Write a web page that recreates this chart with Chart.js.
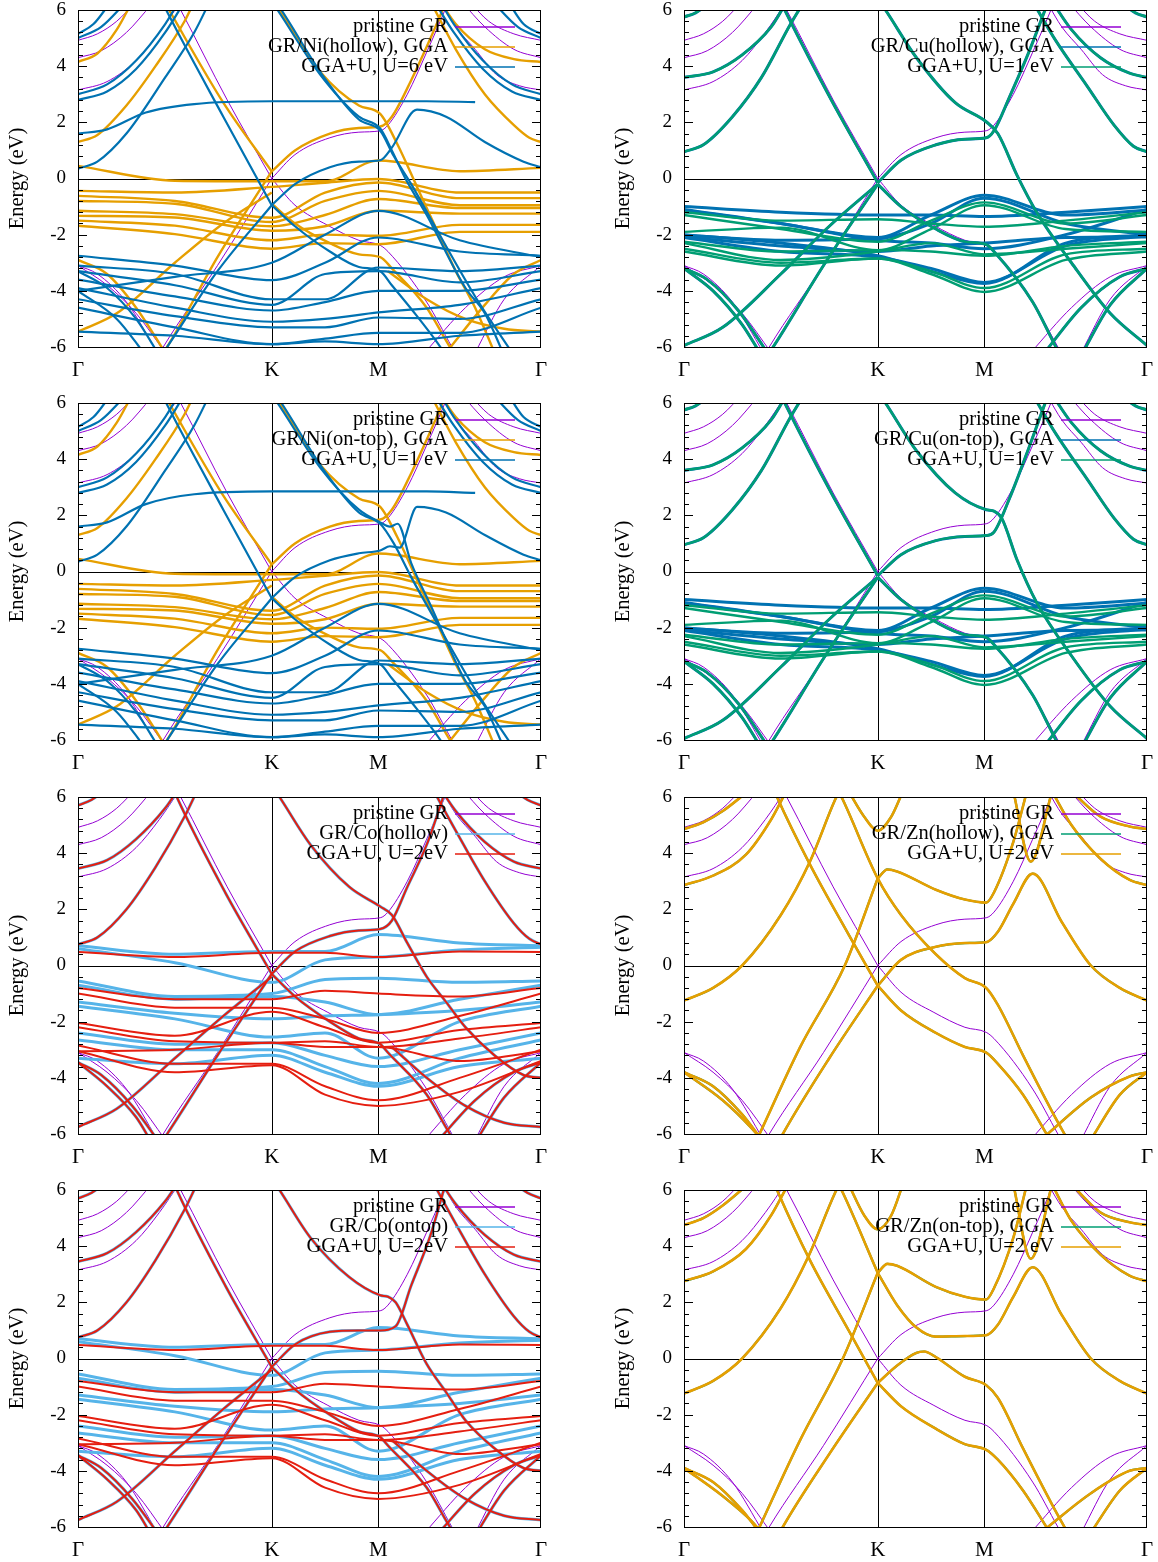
<!DOCTYPE html>
<html>
<head>
<meta charset="utf-8">
<script src="https://cdn.jsdelivr.net/npm/chart.js@4.4.1/dist/chart.umd.min.js"></script>
<style>
body { margin: 0; background: #fff; width: 1158px; height: 1562px; position: relative; overflow: hidden; }
canvas { position: absolute; }
</style>
</head>
<body>
<canvas id="c0" width="560" height="393" style="left:0;top:0"></canvas>
<canvas id="c1" width="560" height="393" style="left:606px;top:0"></canvas>
<canvas id="c2" width="560" height="393" style="left:0;top:393px"></canvas>
<canvas id="c3" width="560" height="393" style="left:606px;top:393px"></canvas>
<canvas id="c4" width="560" height="393" style="left:0;top:787px"></canvas>
<canvas id="c5" width="560" height="393" style="left:606px;top:787px"></canvas>
<canvas id="c6" width="560" height="393" style="left:0;top:1180px"></canvas>
<canvas id="c7" width="560" height="393" style="left:606px;top:1180px"></canvas>
<script>
// k path: Γ - K - M - Γ
const K_POS = [0, 1, 1.55, 2.39]
const K_LABELS = ['Γ', 'K', 'M', 'Γ']
const E_MIN = -6
const E_MAX = 6
// grid used by the flat d-bands
const D_GRID = [0, 0.5, 1, 1.275, 1.55, 1.97, 2.39]

// pristine graphene, [k, E]
const GR_BANDS = [
  [[0.45,7],[0.53,6],[0.77,2.8],[1,0]],
  [[1,0],[1.12,0.85],[1.3,1.45],[1.45,1.65],[1.56,1.7],[1.6,1.9],[1.7,3.0],[1.8,4.5],[1.9,6.1],[1.95,7]],
  [[0.4,-6.5],[0.44,-6],[0.72,-3.1],[1,0]],
  [[1,0],[1.12,-0.95],[1.29,-1.67],[1.45,-2.2],[1.56,-2.38],[1.6,-2.6],[1.8,-4.4],[1.93,-6],[1.98,-6.6]],
  [[0,4.92],[0.1,5.15],[0.2,5.6],[0.3,6.3]],
  [[0,4.3],[0.12,4.55],[0.25,5.2],[0.38,6.2]],
  [[0,3.15],[0.15,3.45],[0.3,4.2],[0.42,5.2],[0.52,6.2]],
  [[0,-3.1],[0.1,-3.4],[0.25,-4.4],[0.41,-6.2]],
  [[0,-3.1],[0.15,-3.8],[0.3,-4.8],[0.45,-6.2]],
  [[2.02,6.3],[2.12,5.6],[2.25,5.15],[2.39,4.92]],
  [[1.98,6.3],[2.1,5.4],[2.25,4.6],[2.39,4.3]],
  [[1.88,6.2],[1.95,5.4],[2.05,4.6],[2.16,3.7],[2.28,3.3],[2.39,3.15]],
  [[1.79,-6.2],[2.0,-4.6],[2.2,-3.5],[2.39,-3.1]],
  [[2.05,-6.2],[2.2,-4.3],[2.39,-3.1]]
]

// ---- GR/Ni ----
const NI_GGA_SP = [
  [[0,4.15],[0.1,4.45],[0.2,5.3],[0.28,6.3]],
  [[0,1.3],[0.1,1.55],[0.25,2.6],[0.4,4.0],[0.55,5.6],[0.6,6.3]],
  [[0.42,6.6],[0.47,6],[0.75,2.7],[1,0.25]],
  [[0.4,-6.6],[0.46,-6],[0.72,-2.8],[1,0.25]],
  [[1,0.25],[1.12,1.0],[1.3,1.6],[1.45,1.8],[1.56,1.85],[1.62,2.2],[1.72,3.5],[1.82,5.0],[1.9,6.3]],
  [[0.98,6.6],[1.04,6],[1.25,3.8],[1.45,2.6],[1.56,2.3],[1.65,1.2],[1.75,-0.3],[1.85,-1.8],[1.95,-3.3],[2.05,-4.6],[2.15,-6.2]],
  [[0,-5.45],[0.2,-4.8],[0.5,-3.0],[0.75,-1.6],[1,-0.5]],
  [[0,-2.9],[0.15,-3.4],[0.3,-4.6],[0.45,-6.2]],
  [[1,-0.9],[1.12,-1.6],[1.3,-2.3],[1.45,-2.7],[1.56,-2.8],[1.62,-3.2],[1.8,-4.6],[1.92,-6],[1.97,-6.5]],
  [[1.87,6.3],[1.95,5.5],[2.1,4.6],[2.25,4.25],[2.39,4.15]],
  [[1.82,6.3],[1.95,4.6],[2.1,3.0],[2.25,1.9],[2.33,1.45],[2.39,1.3]],
  [[1.6,-3.3],[1.8,-4.3],[2.0,-5.0],[2.2,-5.35],[2.39,-5.45]],
  [[1.9,-6.2],[2.1,-4.5],[2.25,-3.4],[2.39,-2.9]]
]
const NI_GGA_D = [
  [0.45, -0.08, -0.1, -0.1, 0.64, 0.26, 0.38],
  [-0.44, -0.5, -0.3, -0.15, -0.02, -0.5, -0.5],
  [-0.62, -0.8, -1.4, -0.5, -0.14, -0.7, -0.7],
  [-0.8, -0.9, -1.55, -0.8, -0.44, -0.95, -0.95],
  [-1.15, -1.27, -1.7, -1.3, -0.73, -1.05, -1.05],
  [-1.33, -1.39, -1.86, -1.7, -1.15, -1.25, -1.25],
  [-1.5, -1.68, -2.2, -2.0, -2.04, -1.65, -1.65],
  [-1.68, -1.98, -2.5, -2.3, -2.34, -1.9, -1.9]
]
const NI_U_SP = [
  [[0,5.15],[0.08,5.5],[0.17,6.3]],
  [[0,5.0],[0.12,5.4],[0.25,6.3]],
  [[0,3.0],[0.15,3.35],[0.3,4.2],[0.45,5.5],[0.52,6.3]],
  [[0,2.8],[0.15,3.1],[0.3,3.9],[0.45,5.2],[0.55,6.3]],
  [[0,0.35],[0.1,0.6],[0.25,1.6],[0.45,3.6],[0.6,5.2],[0.68,6.3]],
  [[0.42,6.5],[0.47,5.8],[0.75,2.2],[1,-0.95]],
  [[0.4,-6.6],[0.46,-6],[0.72,-3.3],[1,-0.95]],
  [[1,-0.95],[1.12,-1.7],[1.3,-2.6],[1.45,-3.15],[1.56,-3.3],[1.62,-3.8],[1.75,-4.9],[1.85,-5.8],[1.9,-6.3]],
  [[2.22,6.3],[2.3,5.5],[2.39,5.15]],
  [[2.14,6.3],[2.27,5.4],[2.39,5.0]],
  [[1.87,6.3],[1.94,5.5],[2.09,4.2],[2.24,3.35],[2.39,3.0]],
  [[1.84,6.3],[1.94,5.2],[2.09,3.9],[2.24,3.1],[2.39,2.8]],
  [[0,-3.3],[0.15,-3.9],[0.3,-5.0],[0.42,-6.3]],
  [[0,-4.0],[0.2,-5.0],[0.35,-6.3]]
]
const NI_H_U_M = [
  [[0,1.6],[0.15,1.75],[0.35,2.35],[0.6,2.65],[1,2.75],[1.55,2.75],[1.8,2.75],[2.05,2.72]],
  [[1,-0.95],[1.12,-0.2],[1.3,0.4],[1.45,0.6],[1.56,0.65],[1.62,1.1],[1.75,2.45],[1.9,2.2],[2.1,1.3],[2.3,0.6],[2.39,0.4]],
  [[0.98,6.5],[1.03,6],[1.25,3.7],[1.45,2.2],[1.56,1.78],[1.62,1.0],[1.69,0],[1.8,-1.3],[2.0,-3.9],[2.1,-4.8],[2.2,-6.3]],
  [[1.0,6.5],[1.05,6],[1.27,3.6],[1.45,2.1],[1.56,1.7],[1.63,0.8],[1.72,-0.2],[1.85,-1.8],[2.05,-4.2],[2.25,-6.3]]
]
const NI_T_U_M = [
  [[0,1.6],[0.15,1.75],[0.35,2.4],[0.6,2.75],[1,2.85],[1.55,2.85],[1.8,2.85],[2.05,2.8]],
  [[1,-0.95],[1.12,-0.2],[1.3,0.4],[1.45,0.65],[1.56,0.75],[1.61,0.9],[1.66,0.85],[1.75,2.3],[1.9,2.1],[2.1,1.3],[2.3,0.6],[2.39,0.4]],
  [[0.98,6.5],[1.03,6],[1.25,3.7],[1.45,2.2],[1.56,1.75],[1.61,1.6],[1.65,1.7],[1.72,0.3],[1.82,-1.2],[2.0,-3.9],[2.1,-4.8],[2.2,-6.3]],
  [[1.0,6.5],[1.05,6],[1.27,3.6],[1.45,2.1],[1.56,1.7],[1.63,1.0],[1.72,-0.2],[1.85,-1.8],[2.05,-4.2],[2.25,-6.3]]
]
const NI_U_D = [
  [-2.75, -3.1, -3.62, -3.0, -2.1, -2.6, -2.75],
  [-3.1, -3.4, -4.3, -4.3, -3.17, -3.3, -3.1],
  [-3.3, -3.8, -4.5, -3.4, -3.3, -3.7, -3.3],
  [-3.6, -4.2, -4.7, -4.4, -4.0, -4.0, -3.6],
  [-3.9, -4.6, -5.1, -5.0, -4.77, -4.5, -3.9],
  [-4.3, -4.9, -5.3, -5.3, -4.95, -5.0, -4.3],
  [-4.6, -5.3, -5.9, -5.7, -5.5, -5.5, -4.6],
  [-4.0, -3.5, -3.0, -2.0, -1.15, -2.2, -2.8],
  [-5.45, -5.6, -5.9, -5.8, -5.9, -5.6, -5.45]
]

// ---- GR/Cu ----
const CU_SP = [
  [[0,5.75],[0.06,5.9],[0.14,6.3]],
  [[2.25,6.3],[2.33,5.9],[2.39,5.75]],
  [[0,3.6],[0.15,3.8],[0.3,4.4],[0.45,5.4],[0.53,6.3]],
  [[1.9,6.3],[2.0,5.3],[2.15,4.3],[2.3,3.75],[2.39,3.6]],
  [[0,0.95],[0.1,1.2],[0.25,2.2],[0.4,3.6],[0.55,5.5],[0.62,6.3]],
  [[1.8,6.3],[1.92,4.9],[2.08,3.3],[2.22,1.9],[2.32,1.15],[2.39,0.95]],
  [[0.45,7],[0.52,6],[0.76,2.8],[1,-0.15]],
  [[0.4,-6.6],[0.46,-6],[0.72,-3.1],[1,-0.2]],
  [[0,-5.95],[0.2,-5.3],[0.5,-3.4],[0.75,-1.7],[1,-0.2]],
  [[0,-3.2],[0.12,-3.6],[0.28,-4.7],[0.44,-6.3]],
  [[0,-3.2],[0.15,-4.0],[0.3,-5.2],[0.4,-6.3]],
  [[1.85,-6.3],[2.05,-4.6],[2.25,-3.5],[2.39,-3.2]],
  [[2.05,-6.3],[2.2,-4.5],[2.39,-3.2]],
  [[1,-0.2],[1.12,-1.0],[1.3,-1.8],[1.45,-2.25],[1.56,-2.35],[1.6,-2.6],[1.8,-4.4],[1.92,-6],[1.96,-6.5]]
]
const CU_H_M = [
  [[0.98,6.6],[1.04,6],[1.2,4.3],[1.4,2.7],[1.56,2.02],[1.62,1.6],[1.72,0.1],[1.82,-1.2],[2.0,-3.0],[2.2,-4.8],[2.39,-5.95]],
  [[1,-0.15],[1.12,0.65],[1.3,1.2],[1.45,1.4],[1.56,1.45],[1.6,1.7],[1.68,2.9],[1.78,4.5],[1.88,6.3]]
]
const CU_T_M = [
  [[0.98,6.6],[1.04,6],[1.2,4.3],[1.4,2.8],[1.56,2.2],[1.6,2.15],[1.64,1.9],[1.72,0.4],[1.82,-1.1],[2.0,-3.0],[2.2,-4.8],[2.39,-5.95]],
  [[1,-0.15],[1.12,0.6],[1.3,1.1],[1.45,1.25],[1.56,1.28],[1.6,1.4],[1.68,2.6],[1.78,4.4],[1.88,6.3]]
]
const CU_GGA_D = [
  [-1.0, -1.2, -1.3, -1.3, -1.35, -1.2, -1.0],
  [-1.13, -1.6, -2.1, -1.3, -0.6, -1.3, -1.13],
  [-2.02, -2.2, -2.14, -1.6, -0.7, -1.6, -2.0],
  [-2.08, -2.4, -2.6, -2.4, -2.3, -2.1, -2.08],
  [-2.1, -2.6, -2.8, -3.2, -3.7, -2.4, -2.05],
  [-2.0, -2.3, -2.75, -3.3, -3.74, -2.3, -2.0],
  [-1.1, -1.6, -2.2, -2.3, -2.5, -2.0, -1.1]
]
const CU_U_D = [
  [-1.2, -1.5, -1.45, -1.6, -1.72, -1.5, -1.2],
  [-1.3, -1.8, -2.25, -1.5, -0.85, -1.6, -1.3],
  [-1.9, -1.75, -2.55, -1.8, -0.95, -1.8, -1.9],
  [-2.25, -2.6, -2.55, -2.6, -2.75, -2.4, -2.25],
  [-2.5, -3.0, -2.85, -3.3, -3.9, -2.7, -2.5],
  [-2.6, -3.1, -2.85, -3.4, -4.04, -2.9, -2.6],
  [-2.3, -2.9, -2.6, -2.3, -2.7, -2.5, -2.3]
]

// ---- GR/Co ----
const CO_SP = [
  [[0,5.7],[0.07,5.9],[0.15,6.3]],
  [[2.24,6.3],[2.32,5.9],[2.39,5.7]],
  [[0,3.45],[0.15,3.75],[0.3,4.5],[0.45,5.6],[0.52,6.3]],
  [[1.87,6.3],[1.95,5.5],[2.1,4.4],[2.25,3.7],[2.39,3.45]],
  [[0,0.75],[0.1,1.0],[0.25,2.0],[0.4,3.5],[0.55,5.3],[0.62,6.3]],
  [[1.83,6.3],[1.95,4.8],[2.1,3.0],[2.25,1.5],[2.33,0.95],[2.39,0.75]],
  [[0.45,7],[0.51,6],[0.76,2.6],[1,-0.3]],
  [[0.4,-6.6],[0.46,-6],[0.72,-3.2],[1,-0.3]],
  [[0,-5.75],[0.2,-5.1],[0.5,-3.3],[0.75,-1.8],[1,-0.4]],
  [[0,-3.45],[0.12,-3.9],[0.28,-5.0],[0.42,-6.3]],
  [[0,-3.45],[0.15,-4.3],[0.3,-5.4],[0.38,-6.3]],
  [[1.85,-6.3],[2.05,-4.8],[2.25,-3.8],[2.39,-3.45]],
  [[2.05,-6.3],[2.2,-4.7],[2.39,-3.45]],
  [[1.62,-2.9],[1.8,-4.0],[2.0,-5.0],[2.2,-5.6],[2.39,-5.75]],
  [[1,-0.3],[1.12,-1.1],[1.3,-2.0],[1.45,-2.6],[1.56,-2.8],[1.6,-3.1],[1.8,-4.6],[1.92,-6],[1.97,-6.5]]
]
const CO_H_M = [
  [[0.98,6.6],[1.04,6],[1.2,4.3],[1.4,2.8],[1.56,2.1],[1.62,1.8],[1.7,0.8],[1.8,-0.4],[1.9,-1.3],[2.0,-2.2],[2.15,-3.2],[2.3,-3.9],[2.39,-4.0]],
  [[1,-0.3],[1.12,0.5],[1.3,1.05],[1.45,1.25],[1.56,1.3],[1.62,1.6],[1.7,2.8],[1.8,4.3],[1.9,6.3]]
]
const CO_T_M = [
  [[0.98,6.6],[1.04,6],[1.2,4.3],[1.4,2.9],[1.56,2.25],[1.6,2.2],[1.64,2.0],[1.7,1.2],[1.8,-0.2],[1.9,-1.2],[2.0,-2.2],[2.15,-3.2],[2.3,-3.9],[2.39,-4.0]],
  [[1,-0.3],[1.12,0.5],[1.3,0.95],[1.45,1.0],[1.56,1.0],[1.64,1.15],[1.72,2.6],[1.82,4.4],[1.9,6.3]]
]
const CO_GGA_D = [
  [0.6, 0.1, -0.6, 0.2, 0.3, 0.55, 0.65],
  [0.7, 0.4, 0.5, 0.5, 1.1, 0.8, 0.7],
  [-0.55, -1.1, -1.0, -0.5, -0.45, -0.6, -0.55],
  [-0.7, -1.2, -1.1, -1.3, -1.75, -1.2, -0.7],
  [-1.3, -1.7, -1.9, -1.8, -1.75, -1.6, -1.3],
  [-1.45, -1.9, -2.55, -2.4, -3.3, -2.0, -1.45],
  [-2.4, -2.8, -2.75, -3.2, -3.6, -3.0, -2.4],
  [-2.65, -3.0, -3.0, -3.6, -4.2, -3.3, -2.65],
  [-3.3, -3.5, -3.2, -3.8, -4.3, -3.6, -3.3]
]
const CO_U_D = [
  [0.48, 0.3, 0.45, 0.45, 0.3, 0.5, 0.48],
  [-0.8, -1.2, -1.2, -0.9, -1.0, -1.1, -0.8],
  [-1.0, -1.5, -1.5, -1.9, -2.4, -1.8, -1.0],
  [-2.05, -2.5, -1.65, -2.2, -2.75, -2.3, -2.05],
  [-2.2, -2.7, -2.75, -2.7, -2.9, -2.6, -2.2],
  [-2.85, -3.5, -3.5, -4.3, -4.8, -4.0, -3.0],
  [-3.05, -3.8, -3.55, -4.6, -5.0, -4.5, -3.4],
  [-3.05, -3.0, -2.75, -2.9, -2.9, -3.4, -3.05]
]

// ---- GR/Zn ----
const ZN_H = [
  [[0,4.86],[0.1,5.1],[0.2,5.5],[0.33,6.2]],
  [[0,2.86],[0.15,3.2],[0.32,3.95],[0.45,5.2],[0.52,6.1]],
  [[0,-1.25],[0.15,-0.8],[0.3,0],[0.5,1.8],[0.65,3.7],[0.78,5.9],[0.81,6.3]],
  [[0.79,6.3],[0.82,5.9],[1,3.1],[1.12,1.8],[1.3,0.4],[1.45,-0.45],[1.56,-0.8],[1.62,-1.4],[1.75,-3.2],[1.9,-5.2],[1.98,-6.2]],
  [[0.42,7],[0.48,6],[0.65,3.6],[0.85,1.1],[1,-0.72]],
  [[1,-0.72],[1.12,0.2],[1.29,0.65],[1.45,0.8],[1.56,0.83],[1.62,1.2],[1.7,2.2],[1.8,3.27],[1.95,1.55],[2.1,0],[2.25,-0.8],[2.39,-1.25]],
  [[0.45,-6.8],[0.51,-6],[0.75,-3.3],[1,-0.72]],
  [[1,-0.72],[1.12,-1.6],[1.3,-2.4],[1.45,-2.9],[1.56,-3.1],[1.62,-3.5],[1.75,-4.6],[1.88,-6.1]],
  [[0.35,-6.6],[0.39,-6],[0.6,-2.9],[0.83,0],[1,3.1]],
  [[1,3.1],[1.05,3.42],[1.1,3.35],[1.3,2.7],[1.45,2.35],[1.56,2.24],[1.6,2.6],[1.7,4.4],[1.77,6.2]],
  [[1.7,6.2],[1.79,3.7],[1.9,6.2]],
  [[0.85,6.2],[0.93,5.3],[1,4.8],[1.07,5.3],[1.13,6.2]],
  [[2.0,6.2],[2.15,5.3],[2.3,4.95],[2.39,4.86]],
  [[1.9,6.2],[2.0,5.0],[2.15,3.8],[2.3,3.05],[2.39,2.86]],
  [[0,-3.8],[0.15,-4.3],[0.3,-5.3],[0.39,-6.1]],
  [[0,-3.8],[0.2,-4.8],[0.35,-5.8],[0.4,-6.2]],
  [[1.86,-6.1],[2.1,-4.7],[2.3,-3.95],[2.39,-3.8]],
  [[2.1,-6.2],[2.25,-4.6],[2.39,-3.8]]
]
const ZN_T = [
  [[0,4.75],[0.1,5.0],[0.2,5.45],[0.33,6.2]],
  [[0,2.75],[0.15,3.1],[0.32,3.9],[0.45,5.1],[0.53,6.1]],
  [[0,-1.25],[0.15,-0.8],[0.3,0],[0.5,1.8],[0.64,3.6],[0.78,5.9],[0.81,6.3]],
  [[0.79,6.3],[0.82,5.9],[1,3.05]],
  [[1,3.05],[1.1,1.9],[1.2,1.1],[1.3,0.78],[1.45,0.8],[1.56,0.83],[1.62,1.2],[1.7,2.2],[1.8,3.25],[1.95,1.55],[2.1,0],[2.25,-0.8],[2.39,-1.25]],
  [[0.42,7],[0.48,6],[0.65,3.5],[0.85,1.0],[1,-0.87]],
  [[1,-0.87],[1.1,-0.25],[1.2,0.2],[1.24,0.25],[1.3,0.05],[1.45,-0.65],[1.56,-0.95],[1.62,-1.4],[1.75,-3.2],[1.9,-5.2],[1.98,-6.2]],
  [[0.45,-6.8],[0.51,-6],[0.75,-3.4],[1,-0.87]],
  [[1,-0.87],[1.12,-1.7],[1.3,-2.5],[1.45,-3.05],[1.56,-3.25],[1.62,-3.6],[1.75,-4.7],[1.88,-6.1]],
  [[0.35,-6.6],[0.39,-6],[0.6,-2.9],[0.82,0],[1,3.05]],
  [[1,3.05],[1.05,3.37],[1.1,3.3],[1.3,2.55],[1.45,2.2],[1.56,2.1],[1.6,2.5],[1.7,4.3],[1.77,6.2]],
  [[1.7,6.2],[1.79,3.55],[1.9,6.2]],
  [[0.85,6.2],[0.93,5.1],[1,4.6],[1.07,5.1],[1.13,6.2]],
  [[2.0,6.2],[2.15,5.2],[2.3,4.85],[2.39,4.75]],
  [[1.9,6.2],[2.0,4.9],[2.15,3.7],[2.3,2.95],[2.39,2.75]],
  [[0,-3.9],[0.15,-4.4],[0.3,-5.4],[0.38,-6.1]],
  [[0,-3.9],[0.2,-4.9],[0.35,-5.8],[0.4,-6.2]],
  [[1.86,-6.1],[2.1,-4.8],[2.3,-4.0],[2.39,-3.9]],
  [[2.1,-6.2],[2.25,-4.7],[2.39,-3.9]]
]

const PURPLE = '#9400D3'
const PANELS = [
  { id: 'c0', keys: ['pristine GR', 'GR/Ni(hollow), GGA', 'GGA+U, U=6 eV'], gga: NI_GGA_SP, ggaD: NI_GGA_D, u: NI_U_SP.concat(NI_H_U_M), uD: NI_U_D, c1: '#E69F00', c2: '#0072B2', w1: 2.4, w2: 2.2 },
  { id: 'c1', keys: ['pristine GR', 'GR/Cu(hollow), GGA', 'GGA+U, U=1 eV'], gga: CU_SP.concat(CU_H_M), ggaD: CU_GGA_D, u: CU_SP.concat(CU_H_M), uD: CU_U_D, c1: '#0072B2', c2: '#009E73', w1: 3.0, w2: 2.4 },
  { id: 'c2', keys: ['pristine GR', 'GR/Ni(on-top), GGA', 'GGA+U, U=1 eV'], gga: NI_GGA_SP, ggaD: NI_GGA_D, u: NI_U_SP.concat(NI_T_U_M), uD: NI_U_D, c1: '#E69F00', c2: '#0072B2', w1: 2.4, w2: 2.2 },
  { id: 'c3', keys: ['pristine GR', 'GR/Cu(on-top), GGA', 'GGA+U, U=1 eV'], gga: CU_SP.concat(CU_T_M), ggaD: CU_GGA_D, u: CU_SP.concat(CU_T_M), uD: CU_U_D, c1: '#0072B2', c2: '#009E73', w1: 3.0, w2: 2.4 },
  { id: 'c4', keys: ['pristine GR', 'GR/Co(hollow)', 'GGA+U, U=2eV'], gga: CO_SP.concat(CO_H_M), ggaD: CO_GGA_D, u: CO_SP.concat(CO_H_M), uD: CO_U_D, c1: '#56B4E9', c2: '#E51E10', w1: 3.0, w2: 2.0 },
  { id: 'c5', keys: ['pristine GR', 'GR/Zn(hollow), GGA', 'GGA+U, U=2 eV'], gga: ZN_H, ggaD: [], u: ZN_H, uD: [], c1: '#009E73', c2: '#E69F00', w1: 2.2, w2: 2.6 },
  { id: 'c6', keys: ['pristine GR', 'GR/Co(ontop)', 'GGA+U, U=2eV'], gga: CO_SP.concat(CO_T_M), ggaD: CO_GGA_D, u: CO_SP.concat(CO_T_M), uD: CO_U_D, c1: '#56B4E9', c2: '#E51E10', w1: 3.0, w2: 2.0 },
  { id: 'c7', keys: ['pristine GR', 'GR/Zn(on-top), GGA', 'GGA+U, U=2 eV'], gga: ZN_T, ggaD: [], u: ZN_T, uD: [], c1: '#009E73', c2: '#E69F00', w1: 2.2, w2: 2.6 }
]

const SERIF = '"Liberation Serif", "DejaVu Serif", serif'

const toPts = band => band.map(p => ({ x: p[0], y: p[1] })).sort((a, b) => a.x - b.x)
const onGrid = row => row.map((e, i) => ({ x: D_GRID[i], y: e }))

const band = (pts, color, width, order) => ({
  data: pts,
  borderColor: color,
  borderWidth: width,
  pointRadius: 0,
  fill: false,
  cubicInterpolationMode: 'monotone',
  order: order
})

// zero line, K and M lines under the bands
const guides = {
  id: 'guides',
  beforeDatasetsDraw(chart) {
    const { ctx, chartArea: a, scales: { x, y } } = chart
    ctx.save()
    ctx.strokeStyle = '#000'
    ctx.lineWidth = 1
    ctx.beginPath()
    const y0 = Math.round(y.getPixelForValue(0)) + 0.5
    ctx.moveTo(a.left, y0)
    ctx.lineTo(a.right, y0)
    for (const k of [K_POS[1], K_POS[2]]) {
      const px = Math.round(x.getPixelForValue(k)) + 0.5
      ctx.moveTo(px, a.top)
      ctx.lineTo(px, a.bottom)
    }
    ctx.stroke()
    ctx.restore()
  }
}

// border box and the inward tics of gnuplot
const frame = {
  id: 'frame',
  afterDatasetsDraw(chart) {
    const { ctx, chartArea: a, scales: { y } } = chart
    ctx.save()
    ctx.strokeStyle = '#000'
    ctx.lineWidth = 1
    ctx.beginPath()
    for (let i = 0; i <= 30; i++) {
      const py = Math.round(y.getPixelForValue(E_MIN + i * 0.4)) + 0.5
      const len = i % 5 === 0 ? 9 : 5
      ctx.moveTo(a.left, py); ctx.lineTo(a.left + len, py)
      ctx.moveTo(a.right, py); ctx.lineTo(a.right - len, py)
    }
    ctx.stroke()
    ctx.strokeRect(Math.round(a.left) + 0.5, Math.round(a.top) + 0.5, Math.round(a.right - a.left) - 1, Math.round(a.bottom - a.top))
    ctx.restore()
  }
}

// key in the top right corner, text on top of the bands
const key = {
  id: 'key',
  afterDraw(chart, args, opts) {
    const { ctx, chartArea: a } = chart
    ctx.save()
    ctx.font = '20.5px ' + SERIF
    ctx.textAlign = 'right'
    ctx.textBaseline = 'middle'
    opts.items.forEach((it, i) => {
      const yy = a.top + 17 + i * 20
      ctx.fillStyle = '#000'
      ctx.fillText(it.text, a.right - 93, yy)
      ctx.strokeStyle = it.color
      ctx.lineWidth = 1.5
      ctx.beginPath()
      ctx.moveTo(a.right - 86, yy)
      ctx.lineTo(a.right - 26, yy)
      ctx.stroke()
    })
    ctx.restore()
  }
}

PANELS.forEach(p => {
  const datasets = []
  GR_BANDS.forEach(b => datasets.push(band(toPts(b), PURPLE, 1, 3)))
  p.gga.forEach(b => datasets.push(band(toPts(b), p.c1, p.w1, 2)))
  p.ggaD.forEach(r => datasets.push(band(onGrid(r), p.c1, p.w1, 2)))
  p.u.forEach(b => datasets.push(band(toPts(b), p.c2, p.w2, 1)))
  p.uD.forEach(r => datasets.push(band(onGrid(r), p.c2, p.w2, 1)))

  new Chart(document.getElementById(p.id), {
    type: 'line',
    data: { datasets: datasets },
    options: {
      responsive: false,
      animation: false,
      devicePixelRatio: 1,
      layout: { padding: { top: 10, right: 19, left: 0, bottom: 0 } },
      plugins: {
        legend: { display: false },
        tooltip: { enabled: false },
        key: { items: [
          { text: p.keys[0], color: PURPLE },
          { text: p.keys[1], color: p.c1 },
          { text: p.keys[2], color: p.c2 }
        ] }
      },
      scales: {
        x: {
          type: 'linear',
          min: K_POS[0],
          max: K_POS[3],
          grid: { display: false, drawTicks: false },
          border: { display: false },
          afterBuildTicks: s => { s.ticks = K_POS.map(v => ({ value: v })) },
          ticks: {
            autoSkip: false,
            maxRotation: 0,
            padding: 11,
            color: '#000',
            font: { family: SERIF, size: 21 },
            callback: (v, i) => K_LABELS[i]
          },
          afterFit: s => { s.height = 46; s.paddingLeft = 0; s.paddingRight = 0 }
        },
        y: {
          min: E_MIN,
          max: E_MAX,
          grid: { display: false, drawTicks: false },
          border: { display: false },
          ticks: { stepSize: 2, padding: 12, color: '#000', font: { family: SERIF, size: 19 } },
          title: { display: true, text: 'Energy (eV)', color: '#000', font: { family: SERIF, size: 20.5 }, padding: { top: 5, bottom: 0 } },
          afterFit: s => { s.width = 78; s.paddingTop = 0; s.paddingBottom = 0 }
        }
      }
    },
    plugins: [guides, frame, key]
  })
})
</script>
</body>
</html>
